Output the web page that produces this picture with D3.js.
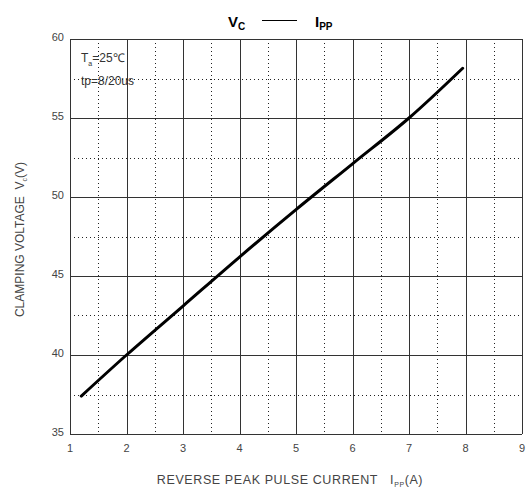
<!DOCTYPE html>
<html>
<head>
<meta charset="utf-8">
<script src="https://cdn.jsdelivr.net/npm/d3@7"></script>
<style>
  body { margin: 0; background: #fff; }
  text { font-family: "Liberation Sans", Arial, sans-serif; white-space: pre; }
</style>
</head>
<body>
<script>
const width = 527;
const height = 495;

// data
const currentA = [1.2, 2, 3, 4, 5, 6, 7, 7.95];
const voltageV = [37.4, 40.0, 43.1, 46.2, 49.2, 52.1, 55.0, 58.15];
const xTicks = [1, 2, 3, 4, 5, 6, 7, 8, 9];
const yTicks = [35, 40, 45, 50, 55, 60];
const xMinor = [1.5, 2.5, 3.5, 4.5, 5.5, 6.5, 7.5, 8.5];
const yMinor = [37.5, 42.5, 47.5, 52.5, 57.5];

const padding = {left: 70, right: 5, top: 39, bottom: 61};

const svg = d3.select("body")
  .append("svg")
  .attr("width", width)
  .attr("height", height);

const xScale = d3.scaleLinear()
  .domain([1, 9])
  .range([padding.left, width - padding.right]);

const yScale = d3.scaleLinear()
  .domain([35, 60])
  .range([height - padding.bottom, padding.top]);

const plotTop = yScale(60), plotBottom = yScale(35);
const plotLeft = xScale(1), plotRight = xScale(9);

// minor dotted grid
svg.append("g").selectAll("line")
  .data(xMinor)
  .join("line")
  .attr("x1", d => Math.round(xScale(d)) + 0.5)
  .attr("x2", d => Math.round(xScale(d)) + 0.5)
  .attr("y1", plotTop)
  .attr("y2", plotBottom)
  .attr("stroke", "#222")
  .attr("stroke-width", 1)
  .attr("stroke-dasharray", "1,3");

svg.append("g").selectAll("line")
  .data(yMinor)
  .join("line")
  .attr("x1", plotLeft)
  .attr("x2", plotRight)
  .attr("y1", d => Math.round(yScale(d)) + 0.5)
  .attr("y2", d => Math.round(yScale(d)) + 0.5)
  .attr("stroke", "#222")
  .attr("stroke-width", 1)
  .attr("stroke-dasharray", "1,3");

// major solid grid
svg.append("g").selectAll("line")
  .data(xTicks)
  .join("line")
  .attr("x1", d => Math.round(xScale(d)) + 0.5)
  .attr("x2", d => Math.round(xScale(d)) + 0.5)
  .attr("y1", plotTop)
  .attr("y2", plotBottom)
  .attr("stroke", "#333");

svg.append("g").selectAll("line")
  .data(yTicks)
  .join("line")
  .attr("x1", plotLeft)
  .attr("x2", plotRight)
  .attr("y1", d => Math.round(yScale(d)) + 0.5)
  .attr("y2", d => Math.round(yScale(d)) + 0.5)
  .attr("stroke", "#333");

// tick labels
svg.append("g").selectAll("text")
  .data(xTicks)
  .join("text")
  .attr("x", d => xScale(d))
  .attr("y", plotBottom + 18)
  .attr("text-anchor", "middle")
  .attr("font-size", 11)
  .attr("fill", "#444")
  .text(d => d);

svg.append("g").selectAll("text")
  .data(yTicks)
  .join("text")
  .attr("x", plotLeft - 6)
  .attr("y", d => yScale(d) + 2)
  .attr("text-anchor", "end")
  .attr("font-size", 11)
  .attr("fill", "#444")
  .text(d => d);

// curve
const line = d3.line()
  .x((d, i) => xScale(currentA[i]))
  .y(d => yScale(d))
  .curve(d3.curveCatmullRom);

svg.append("path")
  .datum(voltageV)
  .attr("fill", "none")
  .attr("stroke", "#000")
  .attr("stroke-width", 3)
  .attr("stroke-linecap", "round")
  .attr("d", line);

// annotations
const note1 = svg.append("text")
  .attr("x", plotLeft + 11)
  .attr("y", plotTop + 23)
  .attr("font-size", 12)
  .attr("fill", "#333");
note1.append("tspan").text("T");
note1.append("tspan").attr("font-size", 7).attr("dy", 4).text("a");
note1.append("tspan").attr("dy", -4).text("=25\u2103");

svg.append("text")
  .attr("x", plotLeft + 11)
  .attr("y", plotTop + 46)
  .attr("font-size", 12)
  .attr("fill", "#333")
  .text("tp=8/20us");

// title
const titleV = svg.append("text")
  .attr("x", 228)
  .attr("y", 27)
  .attr("font-size", 15)
  .attr("font-weight", "bold")
  .attr("fill", "#000");
titleV.append("tspan").text("V");
titleV.append("tspan").attr("font-size", 10).attr("dy", 3).text("C");

svg.append("line")
  .attr("x1", 262)
  .attr("x2", 297)
  .attr("y1", 20.5)
  .attr("y2", 20.5)
  .attr("stroke", "#000")
  .attr("stroke-width", 1.2);

const titleI = svg.append("text")
  .attr("x", 315)
  .attr("y", 27)
  .attr("font-size", 15)
  .attr("font-weight", "bold")
  .attr("fill", "#000");
titleI.append("tspan").text("I");
titleI.append("tspan").attr("font-size", 10).attr("dy", 3).text("PP");

// axis titles
const xLabel = svg.append("text")
  .attr("x", 290)
  .attr("y", 484)
  .attr("text-anchor", "middle")
  .attr("font-size", 12.5)
  .attr("letter-spacing", 0.6)
  .attr("fill", "#444");
xLabel.append("tspan").text("REVERSE PEAK PULSE CURRENT   I");
xLabel.append("tspan").attr("font-size", 7).attr("dy", 3).text("PP");
xLabel.append("tspan").attr("dy", -3).text("(A)");

const yLabel = svg.append("text")
  .attr("transform", "translate(24," + ((plotTop + plotBottom) / 2 + 3) + ") rotate(-90)")
  .attr("text-anchor", "middle")
  .attr("font-size", 12)
  .attr("fill", "#444");
yLabel.append("tspan").text("CLAMPING VOLTAGE  V");
yLabel.append("tspan").attr("font-size", 7).attr("dy", 3).text("c");
yLabel.append("tspan").attr("dy", -3).text("(V)");
</script>
</body>
</html>
